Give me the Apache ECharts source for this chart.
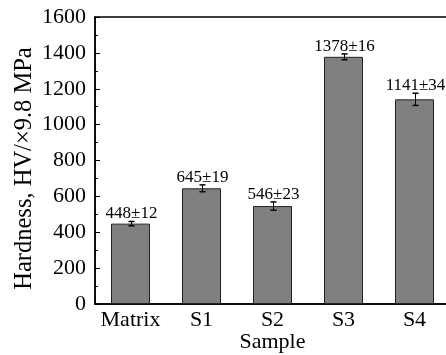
<!DOCTYPE html>
<html>
<head>
<meta charset="utf-8">
<script src="https://cdn.jsdelivr.net/npm/echarts@6/dist/echarts.min.js"></script>
<style>
  html, body { margin: 0; padding: 0; background: #fff; }
  #chart { width: 446px; height: 355px; }
</style>
</head>
<body>
<div id="chart"></div>
<script>
// Microhardness of the matrix and the four samples
const samples = ['Matrix', 'S1', 'S2', 'S3', 'S4'];
const hardness = [448, 645, 546, 1378, 1141];
const hardnessErr = [12, 19, 23, 16, 34];
const yMin = 0;
const yMax = 1600;
const yStep = 200;

const serif = '"Liberation Serif", "Times New Roman", serif';

const chart = echarts.init(document.getElementById('chart'), null, { renderer: 'canvas' });

const errData = samples.map((s, i) => [i, hardness[i], hardnessErr[i]]);

function renderErr(params, api) {
  const i = api.value(0);
  const v = api.value(1);
  const e = api.value(2);
  const hi = api.coord([i, v + e]);
  const lo = api.coord([i, v - e]);
  const x = Math.round(hi[0]) + 0.5;
  const cw = 3;
  return {
    type: 'group',
    children: [
      { type: 'line', shape: { x1: x, y1: hi[1], x2: x, y2: lo[1] }, style: { stroke: '#000', lineWidth: 1 } },
      { type: 'line', shape: { x1: x - cw, y1: hi[1], x2: x + cw, y2: hi[1] }, style: { stroke: '#000', lineWidth: 1.5 } },
      { type: 'line', shape: { x1: x - cw, y1: lo[1], x2: x + cw, y2: lo[1] }, style: { stroke: '#000', lineWidth: 1.5 } },
      {
        type: 'text', x: x, y: hi[1] + 1,
        style: {
          text: v + '±' + e, align: 'center', verticalAlign: 'bottom',
          font: '17px ' + serif, fill: '#000'
        }
      }
    ]
  };
}

chart.setOption({
  animation: false,
  backgroundColor: '#fff',
  grid: {
    left: 95, top: 17, right: -4, bottom: 51,
    outerBoundsMode: 'none',
    containLabel: false,
    show: true, borderColor: '#000', borderWidth: 1.5, backgroundColor: 'transparent'
  },
  xAxis: {
    type: 'category',
    data: samples,
    name: 'Sample',
    nameLocation: 'middle',
    nameGap: 27,
    nameMoveOverlap: false,
    nameTextStyle: { fontFamily: serif, fontSize: 22, color: '#000' },
    axisLine: { show: true, lineStyle: { color: '#000', width: 1.5 } },
    axisTick: { show: false },
    axisLabel: { interval: 0, fontFamily: serif, fontSize: 22, color: '#000', margin: 5 },
    splitLine: { show: false }
  },
  yAxis: {
    type: 'value',
    min: yMin, max: yMax, interval: yStep,
    name: 'Hardness, HV/×9.8 MPa',
    nameLocation: 'middle',
    nameGap: 58,
    nameMoveOverlap: false,
    nameTextStyle: { fontFamily: serif, fontSize: 24.5, color: '#000', padding: [0, 16, 0, 0] },
    axisLine: { show: true, lineStyle: { color: '#000', width: 1.5 } },
    axisTick: { show: true, inside: true, length: 5, lineStyle: { color: '#000', width: 1 } },
    minorTick: { show: true, splitNumber: 2, length: 3, lineStyle: { color: '#000', width: 1 } },
    axisLabel: { fontFamily: serif, fontSize: 22, color: '#000', margin: 9, formatter: (v) => String(v) },
    splitLine: { show: false }
  },
  series: [
    {
      type: 'bar',
      data: hardness,
      barWidth: 39,
      itemStyle: { color: '#808080', borderColor: '#222', borderWidth: 1 }
    },
    {
      type: 'custom',
      data: errData,
      renderItem: renderErr,
      z: 5
    }
  ]
});
</script>
</body>
</html>
